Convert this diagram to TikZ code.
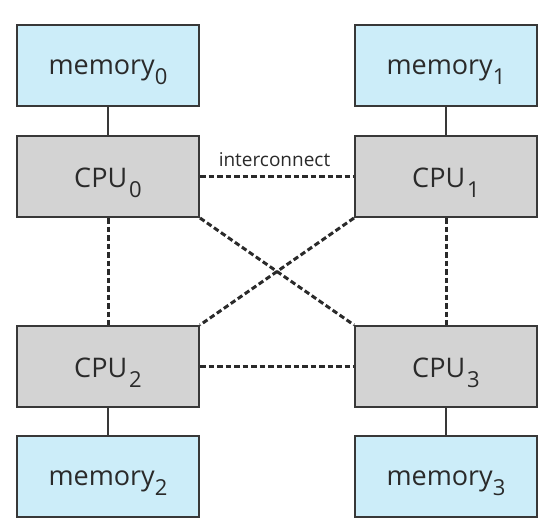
\documentclass[tikz,border=0pt]{standalone}
\usepackage{fontspec}
\setmainfont{Open Sans}
\definecolor{memblue}{HTML}{CCEDF9}
\definecolor{cpugray}{HTML}{D3D3D3}
\definecolor{edgegray}{HTML}{383838}
\definecolor{txt}{HTML}{2A2A2A}
\newcommand{\mysub}[1]{\raisebox{-10.5pt}{\fontsize{22}{22}\selectfont #1}}
\begin{document}
\begin{tikzpicture}[x=1pt,y=-1pt,
  box/.style={draw=edgegray, line width=2pt, minimum width=182pt, minimum height=81pt,
    inner sep=0pt, font=\fontsize{27}{27}\selectfont, text=txt, text depth=0pt},
  mem/.style={box, fill=memblue, text height=17pt},
  cpu/.style={box, fill=cpugray, text height=21pt},
  link/.style={draw=edgegray, line width=2pt},
  bus/.style={draw=txt, line width=3pt, dash pattern=on 5.5pt off 3pt}]
\useasboundingbox (0,0) rectangle (555,530);
\node[mem] (m0) at (108,65.5) {memory\mysub{0}};
\node[mem] (m1) at (446,65.5) {memory\mysub{1}};
\node[cpu] (c0) at (108,176.5) {CPU\hspace{2pt}\mysub{0}};
\node[cpu] (c1) at (446,176.5) {CPU\hspace{2pt}\mysub{1}};
\node[cpu] (c2) at (108,366.5) {CPU\hspace{2pt}\mysub{2}};
\node[cpu] (c3) at (446,366.5) {CPU\hspace{2pt}\mysub{3}};
\node[mem] (m2) at (108,476.5) {memory\mysub{2}};
\node[mem] (m3) at (446,476.5) {memory\mysub{3}};
\draw[link] (m0) -- (c0);
\draw[link] (m1) -- (c1);
\draw[link] (m2) -- (c2);
\draw[link] (m3) -- (c3);
\draw[bus] (c0.east) -- (c1.west);
\draw[bus] (c2.east) -- (c3.west);
\draw[bus] (c0.south) -- (c2.north);
\draw[bus] (c1.south) -- (c3.north);
\draw[bus] (c0.south east) -- (c3.north west);
\draw[bus] (c1.south west) -- (c2.north east);
\node[anchor=base, inner sep=0pt, font=\fontsize{19}{19}\selectfont, text=txt] (ic) at (274.5,166) {interconnect};
\end{tikzpicture}
\end{document}
